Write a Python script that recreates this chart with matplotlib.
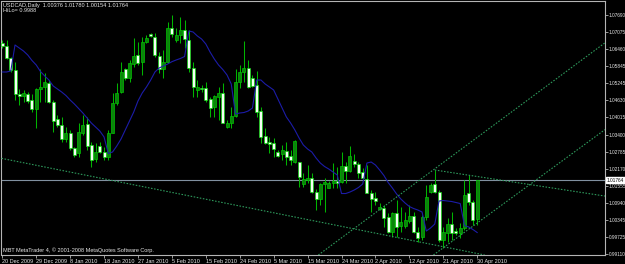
import matplotlib
matplotlib.use("Agg")
import matplotlib.pyplot as plt
import matplotlib.transforms as mtransforms
from matplotlib import font_manager

# ---------------- data ----------------
opens = [1.06685, 1.06588, 1.06136, 1.05716, 1.04854, 1.04783, 1.04854, 1.04639, 1.04316, 1.05023,
         1.05095, 1.05249, 1.04578, 1.03957, 1.03742, 1.03239, 1.03444, 1.02905, 1.02726, 1.03465,
         1.03767, 1.03024, 1.02510, 1.02988, 1.02783, 1.02604, 1.03465, 1.04520, 1.04937, 1.05741,
         1.05418, 1.05921, 1.06255, 1.06014, 1.06732, 1.06998, 1.06912, 1.06229, 1.05741, 1.06014,
         1.07213, 1.06793, 1.06973, 1.07152, 1.06793, 1.05777, 1.04998, 1.05070, 1.05059, 1.04675,
         1.04377, 1.04736, 1.04880, 1.03680, 1.03803, 1.04075, 1.05274, 1.05655, 1.05777, 1.05418,
         1.05178, 1.04255, 1.03347, 1.03142, 1.03085, 1.02761, 1.02700, 1.02819, 1.02629, 1.02424,
         1.02402, 1.01623, 1.01767, 1.01850, 1.01347, 1.01074, 1.01613, 1.01491, 1.01649, 1.01742,
         1.01706, 1.02270, 1.02101, 1.02460, 1.02341, 1.02065, 1.01792, 1.01290, 1.01132, 1.00715,
         1.00751, 1.00428, 0.99911, 1.00572, 1.00126, 1.00116, 1.00306, 1.00475, 0.99911, 0.99732,
         1.00428, 1.01347, 1.01623, 1.01347, 0.99613, 0.99875, 1.00187, 0.99947, 0.99854, 1.00033,
         1.01290, 1.00988, 1.00376]
highs = [1.06793, 1.06793, 1.06194, 1.06014, 1.05034, 1.04998, 1.04937, 1.04854, 1.05059, 1.05741,
         1.05608, 1.05357, 1.04639, 1.04100, 1.04040, 1.03680, 1.03562, 1.02963, 1.03803, 1.04100,
         1.04040, 1.03142, 1.03085, 1.03142, 1.02963, 1.03562, 1.04880, 1.05239, 1.06014, 1.05777,
         1.06075, 1.06854, 1.06732, 1.06912, 1.06973, 1.07034, 1.07034, 1.06373, 1.06434, 1.07450,
         1.07690, 1.07213, 1.07630, 1.07511, 1.07152, 1.06003, 1.05357, 1.05178, 1.05296, 1.04758,
         1.04819, 1.05117, 1.05239, 1.03921, 1.04377, 1.05741, 1.05896, 1.06768, 1.06075, 1.05537,
         1.05691, 1.04377, 1.03623, 1.03322, 1.03264, 1.02844, 1.03024, 1.03142, 1.02844, 1.03203,
         1.02424, 1.02008, 1.02306, 1.02008, 1.01433, 1.01649, 1.01828, 1.01731, 1.02388, 1.02245,
         1.02783, 1.02424, 1.02988, 1.02700, 1.02424, 1.02198, 1.02306, 1.01408, 1.01347, 1.00941,
         1.00870, 1.00572, 1.00629, 1.01049, 1.00809, 1.00629, 1.00870, 1.00629, 1.00091, 1.00510,
         1.01588, 1.01649, 1.02126, 1.01408, 1.00091, 1.00392, 1.00629, 1.00033, 1.00213, 1.01767,
         1.01947, 1.01049, 1.01780]
lows = [1.06506, 1.06100, 1.05655, 1.04639, 1.04460, 1.04578, 1.04520, 1.04219, 1.03623, 1.04578,
        1.04578, 1.04520, 1.03501, 1.03680, 1.03142, 1.03142, 1.02844, 1.02604, 1.02604, 1.03383,
        1.02844, 1.02245, 1.02424, 1.02726, 1.02485, 1.02485, 1.03444, 1.04460, 1.04880, 1.05357,
        1.05296, 1.05835, 1.05896, 1.05537, 1.06675, 1.06901, 1.06194, 1.05598, 1.05418, 1.05957,
        1.06912, 1.06732, 1.06675, 1.06495, 1.05644, 1.04747, 1.04758, 1.04937, 1.04578, 1.04040,
        1.04040, 1.03921, 1.03803, 1.03623, 1.03623, 1.04040, 1.05059, 1.05296, 1.05059, 1.05117,
        1.04040, 1.03085, 1.03059, 1.02726, 1.02604, 1.02593, 1.02485, 1.02306, 1.02306, 1.02377,
        1.01527, 1.01527, 1.01649, 1.01290, 1.00690, 1.00870, 1.00629, 1.01469, 1.01469, 1.01469,
        1.01649, 1.01649, 1.02065, 1.02245, 1.01828, 1.01767, 1.01290, 1.00629, 1.00870, 1.00690,
        1.00091, 0.99875, 0.99732, 0.99732, 0.99911, 1.00033, 1.00213, 0.99854, 0.99552, 0.99613,
        1.00331, 1.01311, 1.01311, 0.99552, 0.99315, 0.99552, 0.99613, 0.99793, 0.99674, 0.99972,
        1.00870, 1.00152, 1.00154]
closes = [1.06578, 1.06136, 1.05716, 1.04854, 1.04783, 1.04880, 1.04614, 1.04316, 1.05023, 1.05095,
          1.05296, 1.04578, 1.03885, 1.03742, 1.03239, 1.03444, 1.02905, 1.02665, 1.03501, 1.03742,
          1.02988, 1.02485, 1.02783, 1.02783, 1.02604, 1.03465, 1.04520, 1.04901, 1.05655, 1.05418,
          1.05957, 1.06219, 1.05978, 1.06732, 1.06876, 1.06937, 1.06255, 1.05741, 1.06014, 1.07213,
          1.07008, 1.06973, 1.07152, 1.06818, 1.05788, 1.05117, 1.05117, 1.05045, 1.04639, 1.04341,
          1.04783, 1.04880, 1.03824, 1.03824, 1.04075, 1.05274, 1.05655, 1.05777, 1.05117, 1.05142,
          1.04219, 1.03322, 1.03106, 1.03059, 1.02869, 1.02639, 1.02844, 1.02604, 1.02485, 1.03178,
          1.01886, 1.01792, 1.01850, 1.01347, 1.01074, 1.01623, 1.01695, 1.01670, 1.01742, 1.01649,
          1.02270, 1.02101, 1.02629, 1.02341, 1.02029, 1.01828, 1.01311, 1.01074, 1.01024, 1.00809,
          1.00392, 0.99911, 1.00572, 1.00091, 1.00248, 1.00331, 1.00475, 0.99911, 0.99674, 1.00428,
          1.01168, 1.01588, 1.01347, 0.99613, 0.99911, 1.00187, 0.99875, 0.99854, 1.00033, 1.01229,
          1.00988, 1.00331, 1.01764]
hilo = [1.05644, 1.05644, 1.05680, 1.06614, 1.06506, 1.06398, 1.06255, 1.06057, 1.05896, 1.05662,
        1.05501, 1.05357, 1.05142, 1.05034, 1.04926, 1.04801, 1.04639, 1.04495, 1.04334, 1.04172,
        1.03993, 1.03813, 1.03670, 1.03526, 1.03311, 1.02718, 1.02772, 1.02988, 1.03239, 1.03562,
        1.03885, 1.04208, 1.04603, 1.04890, 1.05106, 1.05357, 1.05644, 1.05788, 1.05860, 1.05931,
        1.06014, 1.06075, 1.06129, 1.06201, 1.07116, 1.07080, 1.06937, 1.06829, 1.06649, 1.06362,
        1.06111, 1.05896, 1.05734, 1.05537, 1.05213, 1.04136, 1.04172, 1.04190, 1.04244, 1.04352,
        1.05357, 1.05357, 1.05213, 1.05106, 1.04998, 1.04675, 1.04352, 1.04029, 1.03813, 1.03562,
        1.03275, 1.03024, 1.02880, 1.02772, 1.02557, 1.02377, 1.02252, 1.02162, 1.02054, 1.01947,
        1.01282, 1.01282, 1.01336, 1.01408, 1.01498, 1.01623, 1.02377, 1.02413, 1.02306, 1.02126,
        1.01929, 1.01677, 1.01480, 1.01264, 1.01085, 1.00941, 1.00816, 1.00744, 1.00690, 1.00618,
        0.99936, 1.00044, 1.00187, 1.01013, 1.01031, 1.01013, 1.00995, 1.00959, 1.00923, 1.00134,
        1.00080, 0.99990, 0.99882]

date_labels = ['20 Dec 2009', '29 Dec 2009', '8 Jan 2010', '18 Jan 2010', '27 Jan 2010',
               '5 Feb 2010', '15 Feb 2010', '24 Feb 2010', '5 Mar 2010', '15 Mar 2010',
               '24 Mar 2010', '2 Apr 2010', '12 Apr 2010', '21 Apr 2010', '30 Apr 2010']
date_label_bars = [0, 8, 16, 24, 32, 40, 48, 56, 64, 72, 80, 88, 96, 104, 112]
price_ticks = [1.07690, 1.07075, 1.06460, 1.05845, 1.05245, 1.04630, 1.04015, 1.03400,
               1.02785, 1.02170, 1.01555, 1.00940, 1.00345, 0.99725, 0.99110]
bid_price = 1.01764

# trend lines: two anchor points (bar, price)
line_a = [(0, 1.02539), (112, 0.99129)]
line_b = [(102, 1.02126), (112, 1.01893)]
line_c = [(76, 0.99240), (112, 1.03296)]
line_d = [(104, 0.99333), (112, 1.00223)]

title_text = 'USDCAD,Daily  1.00376 1.01780 1.00154 1.01764'
hilo_text = 'HiLo= 0.9988'
copyright_text = 'MBT MetaTrader 4, \u00a9 2001-2008 MetaQuotes Software Corp.'

# ---------------- style ----------------
W, H = 625, 264
installed = {f.name for f in font_manager.fontManager.ttflist}
narrow = None
for cand in ('Liberation Sans Narrow', 'DejaVu Sans Condensed'):
    if cand in installed:
        narrow = cand
        break
if narrow:
    FONT = [narrow, 'DejaVu Sans']
    FS = 4.6
    FS_Y = 4.2
else:
    FONT = ['Liberation Sans', 'DejaVu Sans']
    FS = 4.0
    FS_Y = 3.4

BG = '#000000'
AXC = '#b4b4b4'
TXT = '#e6e6e6'
WICK = '#00b400'
BULL_FACE = '#0c820c'
BULL_EDGE = '#00d000'
BEAR_FACE = '#f4fff4'
BEAR_EDGE = '#00e000'
MA_COL = '#1c1ca8'
TL_COL = '#2e9a5c'
BID_COL = '#8090a0'

plt.rcParams['font.family'] = FONT
fig = plt.figure(figsize=(W / 100, H / 100), dpi=100, facecolor=BG)
left, right, top, bottom = 1.5, 605, 1.3, 255
ax = fig.add_axes([left / W, 1 - bottom / H, (right - left) / W, (bottom - top) / H])
ax.set_facecolor(BG)

bar_px = 4.24
x0_px = 2.3
ax.set_xlim((left - x0_px) / bar_px, (right - x0_px) / bar_px)
ax.set_ylim(0.99075, 1.08182)

n = len(opens)
xs = list(range(n))

# bid line
ax.axhline(bid_price, color=BID_COL, lw=0.8, zorder=1)

# wicks
ax.vlines(xs, lows, highs, colors=WICK, lw=0.75, zorder=2)
# bodies
for i in xs:
    o, c = opens[i], closes[i]
    bot = min(o, c)
    h = max(abs(c - o), 0.00012)
    if c >= o:
        fc, ec = BULL_FACE, BULL_EDGE
    else:
        fc, ec = BEAR_FACE, BEAR_EDGE
    ax.bar(i, h, bottom=bot, width=0.7, color=fc, edgecolor=ec, linewidth=0.45, zorder=3)

# HiLo line
ax.plot(xs, hilo, color=MA_COL, lw=0.8, zorder=4)

# trend lines
dots = (0, (1.4, 1.4))
for ln in (line_a, line_c, line_d):
    ax.axline(ln[0], ln[1], color=TL_COL, lw=0.8, ls=dots, zorder=5)
(bx1, by1), (bx2, by2) = line_b
xr = ax.get_xlim()[1]
slope = (by2 - by1) / (bx2 - bx1)
ax.plot([bx1, xr], [by1, by1 + slope * (xr - bx1)], color=TL_COL, lw=0.8, ls=dots, zorder=5)

# axes styling
for s in ax.spines.values():
    s.set_color(AXC)
    s.set_linewidth(0.8)
ax.yaxis.tick_right()
ax.set_yticks(price_ticks)
ax.set_yticklabels([f'{p:.5f}' for p in price_ticks])
ax.set_xticks(date_label_bars)
ax.set_xticklabels(date_labels, ha='left')
ax.tick_params(axis='both', colors=AXC, labelcolor=TXT, length=2.0, width=0.6, direction='out')
ax.tick_params(axis='x', labelsize=FS, pad=0.6)
ax.tick_params(axis='y', labelsize=FS_Y, pad=0.5)

# bid label on axis
trans = mtransforms.blended_transform_factory(ax.transAxes, ax.transData)
ax.text(1.003, bid_price, f'{bid_price:.5f}', transform=trans, ha='left', va='center',
        fontsize=FS_Y, color='black', clip_on=False,
        bbox=dict(boxstyle='square,pad=0.12', facecolor='white', edgecolor='white'))

# texts
fig.text(3 / W, 1 - 5 / H, title_text, color=TXT, fontsize=FS, ha='left', va='center')
fig.text(3 / W, 1 - 11 / H, hilo_text, color=TXT, fontsize=FS, ha='left', va='center')
fig.text(3 / W, 1 - 250 / H, copyright_text, color=TXT, fontsize=FS, ha='left', va='center')

fig.savefig('out.png', dpi=100, facecolor=BG)
